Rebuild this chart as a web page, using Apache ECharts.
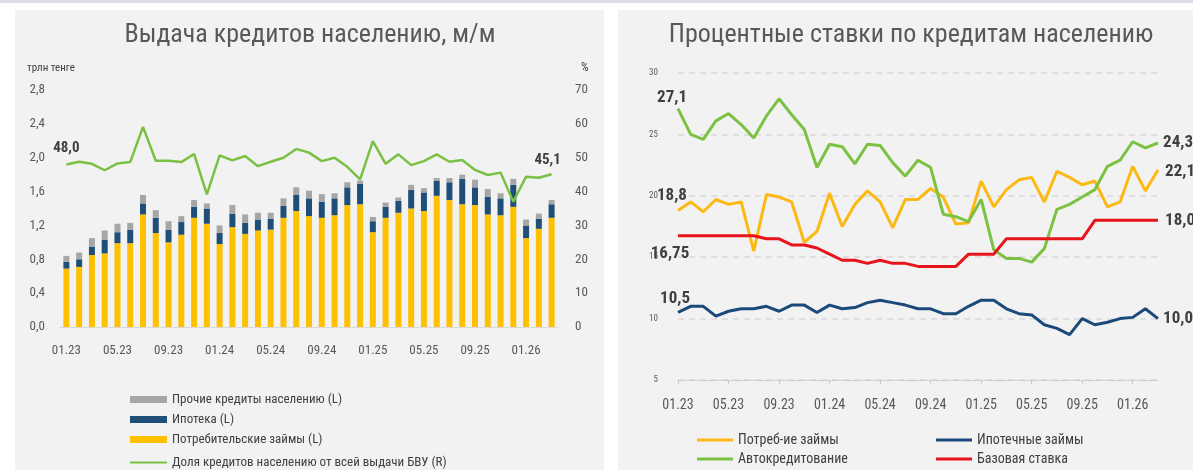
<!DOCTYPE html>
<html>
<head>
<meta charset="utf-8">
<script src="https://cdn.jsdelivr.net/npm/echarts@6/dist/echarts.min.js"></script>
<style>
  html, body { margin: 0; padding: 0; background: #fff; }
  #chart { width: 1193px; height: 470px; }
</style>
</head>
<body>
<div id="chart"></div>
<script>
// месяцы 01.23 - 03.26
var months = ['01.23','02.23','03.23','04.23','05.23','06.23','07.23','08.23','09.23','10.23','11.23','12.23',
  '01.24','02.24','03.24','04.24','05.24','06.24','07.24','08.24','09.24','10.24','11.24','12.24',
  '01.25','02.25','03.25','04.25','05.25','06.25','07.25','08.25','09.25','10.25','11.25','12.25',
  '01.26','02.26','03.26'];

// выдача, трлн тенге
var consumer = [0.69,0.71,0.85,0.87,0.99,0.99,1.33,1.11,1.00,1.09,1.29,1.22,
  0.98,1.18,1.10,1.14,1.15,1.29,1.37,1.31,1.29,1.32,1.44,1.45,
  1.12,1.29,1.35,1.40,1.37,1.55,1.50,1.45,1.44,1.33,1.32,1.42,
  1.05,1.16,1.29];
var mortgage = [0.08,0.09,0.10,0.16,0.13,0.16,0.13,0.18,0.15,0.15,0.13,0.18,
  0.13,0.16,0.13,0.13,0.13,0.14,0.19,0.21,0.19,0.20,0.21,0.24,
  0.13,0.13,0.14,0.22,0.22,0.18,0.21,0.30,0.21,0.21,0.20,0.26,
  0.15,0.12,0.16];
var other = [0.07,0.08,0.10,0.11,0.10,0.08,0.10,0.09,0.10,0.07,0.08,0.06,
  0.09,0.10,0.10,0.08,0.07,0.09,0.09,0.09,0.09,0.06,0.06,0.04,
  0.05,0.05,0.04,0.06,0.05,0.03,0.05,0.05,0.09,0.09,0.06,0.07,
  0.07,0.06,0.05];
// доля, %
var share = [48.0,48.8,48.2,46.3,48.3,48.7,59.1,49.1,49.1,48.7,51.1,39.2,
  50.7,49.2,50.5,47.5,48.8,50.0,52.6,51.5,49.0,50.0,47.3,43.6,
  54.9,48.2,51.0,47.8,49.0,51.0,48.8,49.3,46.4,44.9,45.6,37.0,
  44.4,44.1,45.1];

// ставки, %
var rateConsumer = [18.8,19.5,18.7,19.7,19.3,19.5,15.5,20.1,19.9,19.5,16.2,17.1,
  20.2,17.5,19.3,20.4,19.5,17.4,19.7,19.7,20.6,19.9,17.7,17.8,
  21.2,19.1,20.5,21.3,21.5,19.5,22.0,21.5,20.9,21.2,19.1,19.5,
  22.4,20.4,22.1];
var rateMortgage = [10.5,11.0,11.0,10.2,10.6,10.8,10.8,11.0,10.6,11.1,11.1,10.5,
  11.1,10.8,10.9,11.3,11.5,11.3,11.1,10.8,10.8,10.4,10.4,11.0,
  11.5,11.5,10.8,10.4,10.3,9.5,9.2,8.7,10.0,9.5,9.7,10.0,
  10.1,10.8,10.0];
var rateAuto = [27.1,25.0,24.6,26.1,26.7,25.8,24.7,26.5,27.9,26.6,25.4,22.3,
  24.2,24.0,22.6,24.2,24.1,22.7,21.6,22.9,22.3,18.5,18.3,17.9,
  19.7,15.6,14.9,14.9,14.6,15.7,18.9,19.3,19.9,20.5,22.4,22.9,
  24.4,23.9,24.3];
var baseRate = [16.75,16.75,16.75,16.75,16.75,16.75,16.75,16.5,16.5,16.0,16.0,15.75,
  15.25,14.75,14.75,14.5,14.75,14.5,14.5,14.25,14.25,14.25,14.25,15.25,
  15.25,15.25,16.5,16.5,16.5,16.5,16.5,16.5,16.5,18.0,18.0,18.0,
  18.0,18.0,18.0];

var leftTicks = [0, 2.8, 0.4];
var rightTicks = [0, 70, 10];
var rateTicks = [5, 30, 5];

var FONT = "'Roboto Condensed', 'Open Sans', sans-serif";
var TXT = '#595959';
var DARK = '#404040';

function comma(v) {
  return String(v).replace('.', ',');
}
function fixed1(v) {
  return v.toFixed(1).replace('.', ',');
}

// подписи первой и последней точки
function ends(arr, first, last, fmtFirst, fmtLast) {
  fmtLast = fmtLast || fmtFirst;
  return arr.map(function (v, i) {
    if (i === 0 && first) return { value: v, label: Object.assign({ show: true, formatter: fmtFirst(v) }, first) };
    if (i === arr.length - 1 && last) return { value: v, label: Object.assign({ show: true, formatter: fmtLast(v) }, last) };
    return v;
  });
}

var lblStyle = { fontFamily: FONT, fontWeight: 'bold', color: DARK };
var legendText = { fontFamily: FONT, fontSize: 13, color: DARK };

var myChart = echarts.init(document.getElementById('chart'));
var option = {
  backgroundColor: '#ffffff',
  animation: false,
  textStyle: { fontFamily: FONT },
  graphic: [
    { type: 'rect', z: -10, shape: { x: 0, y: 0, width: 1193, height: 3 }, style: { fill: '#dcdcea' } },
    { type: 'rect', z: -10, shape: { x: 15, y: 10, width: 589, height: 460 }, style: { fill: '#f2f2f2' } },
    { type: 'rect', z: -10, shape: { x: 618, y: 10, width: 575, height: 460 }, style: { fill: '#f2f2f2' } },
    { type: 'text', x: 310, y: 35, style: { text: 'Выдача кредитов населению, м/м', fill: TXT, font: "26px 'Roboto Condensed'", textAlign: 'center', textVerticalAlign: 'middle' } },
    { type: 'text', x: 911, y: 35, style: { text: 'Процентные ставки по кредитам населению', fill: TXT, font: "26px 'Roboto Condensed'", textAlign: 'center', textVerticalAlign: 'middle' } },
    { type: 'text', x: 27, y: 68, style: { text: 'трлн тенге', fill: DARK, font: "11px 'Roboto Condensed'", textVerticalAlign: 'middle' } },
    { type: 'text', x: 581, y: 68, style: { text: '%', fill: DARK, font: "12px 'Roboto Condensed'", textVerticalAlign: 'middle' } }
  ],
  grid: [
    { left: 60, right: 635, top: 90, bottom: 143 },
    { left: 678, right: 35, top: 73, bottom: 90 }
  ],
  legend: [
    {
      orient: 'vertical', left: 125, top: 388, height: 70, itemWidth: 37, itemHeight: 7, itemGap: 7,
      textStyle: legendText,
      data: [
        { name: 'Прочие кредиты населению (L)', icon: 'rect' },
        { name: 'Ипотека (L)', icon: 'rect' },
        { name: 'Потребительские займы (L)', icon: 'rect' }
      ]
    },
    {
      orient: 'vertical', left: 125, top: 451, height: 20, itemWidth: 37, itemHeight: 2, itemGap: 6,
      textStyle: legendText,
      data: [{ name: 'Доля кредитов населению от всей выдачи БВУ (R)', icon: 'rect' }]
    },
    {
      orient: 'vertical', left: 692, top: 428, height: 45, itemWidth: 36, itemHeight: 3, itemGap: 5,
      textStyle: { fontFamily: FONT, fontSize: 14, color: DARK },
      data: [{ name: 'Потреб-ие займы', icon: 'rect' }, { name: 'Автокредитование', icon: 'rect' }]
    },
    {
      orient: 'vertical', left: 931, top: 428, height: 45, itemWidth: 36, itemHeight: 3, itemGap: 5,
      textStyle: { fontFamily: FONT, fontSize: 14, color: DARK },
      data: [{ name: 'Ипотечные займы', icon: 'rect' }, { name: 'Базовая ставка', icon: 'rect' }]
    }
  ],
  xAxis: [
    {
      type: 'category', gridIndex: 0, data: months, boundaryGap: true,
      axisLine: { lineStyle: { color: '#d9d9d9' } },
      axisTick: { show: false },
      axisLabel: { interval: 3, margin: 17, fontSize: 13, color: TXT, fontFamily: FONT }
    },
    {
      type: 'category', gridIndex: 1, data: months, boundaryGap: false,
      axisLine: { lineStyle: { color: '#d0d0d0' } },
      axisTick: { show: true, interval: 3, length: 4, lineStyle: { color: '#c8c8c8' } },
      axisLabel: { interval: 3, margin: 18, fontSize: 14, color: TXT, fontFamily: FONT }
    }
  ],
  yAxis: [
    {
      type: 'value', gridIndex: 0, min: leftTicks[0], max: leftTicks[1], interval: leftTicks[2],
      splitLine: { show: false }, axisLine: { show: false }, axisTick: { show: false },
      axisLabel: { margin: 15, fontSize: 13, color: TXT, fontFamily: FONT, formatter: fixed1 }
    },
    {
      type: 'value', gridIndex: 0, position: 'right', min: rightTicks[0], max: rightTicks[1], interval: rightTicks[2],
      splitLine: { show: false }, axisLine: { show: false }, axisTick: { show: false },
      axisLabel: { margin: 17, fontSize: 13, color: TXT, fontFamily: FONT }
    },
    {
      type: 'value', gridIndex: 1, min: rateTicks[0], max: rateTicks[1], interval: rateTicks[2],
      splitLine: { show: true, lineStyle: { color: '#d9d9d9', type: [6, 5], width: 1.5 } },
      axisLine: { show: false }, axisTick: { show: false },
      axisLabel: { margin: 20, fontSize: 9, color: TXT, fontFamily: FONT }
    }
  ],
  series: [
    { name: 'Потребительские займы (L)', type: 'bar', stack: 'v', xAxisIndex: 0, yAxisIndex: 0, barWidth: 6, itemStyle: { color: '#FFC000' }, data: consumer },
    { name: 'Ипотека (L)', type: 'bar', stack: 'v', xAxisIndex: 0, yAxisIndex: 0, barWidth: 6, itemStyle: { color: '#1F4E79' }, data: mortgage },
    { name: 'Прочие кредиты населению (L)', type: 'bar', stack: 'v', xAxisIndex: 0, yAxisIndex: 0, barWidth: 6, itemStyle: { color: '#A6A6A6' }, data: other },
    {
      name: 'Доля кредитов населению от всей выдачи БВУ (R)', type: 'line', xAxisIndex: 0, yAxisIndex: 1,
      symbol: 'circle', symbolSize: 0.1, showSymbol: true, lineStyle: { color: '#7AC143', width: 2.5 }, itemStyle: { color: '#7AC143' },
      data: ends(share,
        Object.assign({ position: 'top', offset: [0, -4], fontSize: 15 }, lblStyle),
        Object.assign({ position: 'top', offset: [-4, -2], fontSize: 15 }, lblStyle), fixed1)
    },
    {
      name: 'Потреб-ие займы', type: 'line', xAxisIndex: 1, yAxisIndex: 2, symbol: 'circle', symbolSize: 0.1, showSymbol: true,
      lineStyle: { color: '#FDB913', width: 3 }, itemStyle: { color: '#FDB913' },
      data: ends(rateConsumer,
        Object.assign({ position: 'left', offset: [14, -15], fontSize: 17 }, lblStyle),
        Object.assign({ position: 'right', offset: [2, 2], fontSize: 17 }, lblStyle), fixed1)
    },
    {
      name: 'Автокредитование', type: 'line', xAxisIndex: 1, yAxisIndex: 2, symbol: 'circle', symbolSize: 0.1, showSymbol: true,
      lineStyle: { color: '#7CC242', width: 3 }, itemStyle: { color: '#7CC242' },
      data: ends(rateAuto,
        Object.assign({ position: 'top', offset: [-6, 3], fontSize: 17 }, lblStyle),
        Object.assign({ position: 'right', offset: [0, 0], fontSize: 17 }, lblStyle), fixed1)
    },
    {
      name: 'Ипотечные займы', type: 'line', xAxisIndex: 1, yAxisIndex: 2, symbol: 'circle', symbolSize: 0.1, showSymbol: true,
      lineStyle: { color: '#1B4A7A', width: 3 }, itemStyle: { color: '#1B4A7A' },
      data: ends(rateMortgage,
        Object.assign({ position: 'top', offset: [-3, 0], fontSize: 17 }, lblStyle),
        Object.assign({ position: 'right', offset: [0, 0], fontSize: 17 }, lblStyle), fixed1)
    },
    {
      name: 'Базовая ставка', type: 'line', xAxisIndex: 1, yAxisIndex: 2, symbol: 'circle', symbolSize: 0.1, showSymbol: true,
      lineStyle: { color: '#E8141B', width: 3 }, itemStyle: { color: '#E8141B' },
      data: ends(baseRate,
        Object.assign({ position: 'bottom', offset: [-8, 4], fontSize: 17 }, lblStyle),
        Object.assign({ position: 'right', offset: [2, 0], fontSize: 17 }, lblStyle), comma, fixed1)
    }
  ]
};
myChart.setOption(option);
</script>
</body>
</html>
